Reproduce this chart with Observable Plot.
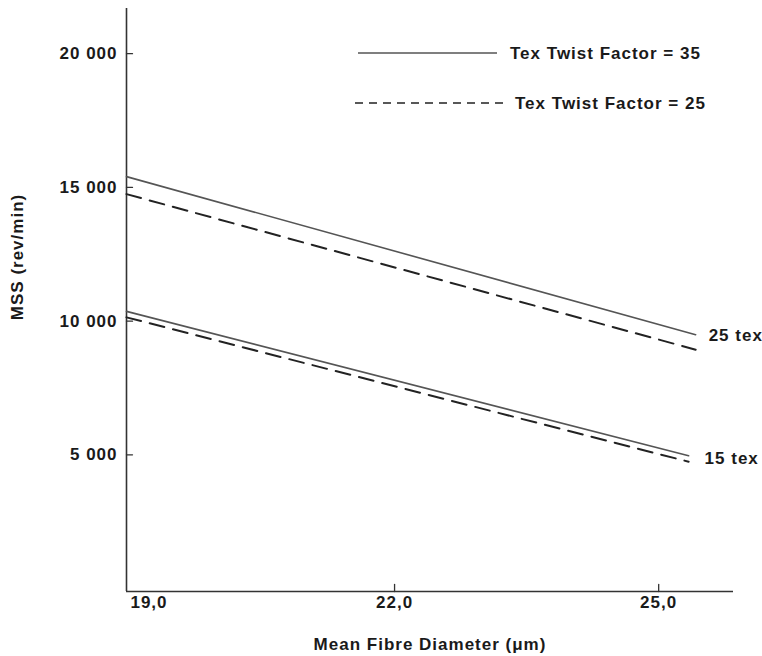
<!DOCTYPE html>
<html>
<head>
<meta charset="utf-8">
<script src="https://cdn.jsdelivr.net/npm/d3@7"></script>
<script src="https://cdn.jsdelivr.net/npm/@observablehq/plot@0.6"></script>
<style>
  html, body { margin: 0; padding: 0; background: #fff; }
  #wrap { position: relative; width: 762px; height: 656px; }
  #legend { position: absolute; left: 0; top: 0; pointer-events: none; }
  #legend text { font-family: "Liberation Sans", Arial, sans-serif; font-size: 17px; font-weight: bold; letter-spacing: 1px; fill: #1a1a1a; }
</style>
</head>
<body>
<div id="wrap"></div>
<script>
// ---- data ----
const xTicks = [19, 22, 25];
const yTicks = [5000, 10000, 15000, 20000];
const xDomain = [18.955, 25.85];
const yDomain = [-110, 21690];

// Mean fibre diameter (µm) at the start/end of each line
const x25tex = [18.955, 25.42];
const x15tex = [18.955, 25.34];
// MSS (rev/min)
const tex25_tf35 = [15404, 9494];
const tex25_tf25 = [14749, 8933];
const tex15_tf35 = [10365, 4968];
const tex15_tf25 = [10141, 4743];

const yarnLabels = ["25 tex", "15 tex"];
const legendLabels = ["Tex Twist Factor = 35", "Tex Twist Factor = 25"];

// ---- build table ----
const rows = [];
function addSeries(xs, ys, yarn, tf) {
  xs.forEach((x, i) => rows.push({x, y: ys[i], yarn, tf}));
}
addSeries(x25tex, tex25_tf35, "25 tex", 35);
addSeries(x25tex, tex25_tf25, "25 tex", 25);
addSeries(x15tex, tex15_tf35, "15 tex", 35);
addSeries(x15tex, tex15_tf25, "15 tex", 25);

const solid = rows.filter(d => d.tf === 35);
const dashed = rows.filter(d => d.tf === 25);
const solidEnds = yarnLabels.map(l => {
  const s = solid.filter(d => d.yarn === l);
  return s[s.length - 1];
});

const fmtY = d => d3.format(",")(d).replace(",", " ");
const fmtX = d => d.toFixed(1).replace(".", ",");
const tickShape = { draw(ctx, l) { ctx.moveTo(0, 0); ctx.lineTo(0, -l); } };
const axisColor = "#333";

const chart = Plot.plot({
  width: 762,
  height: 656,
  marginLeft: 126,
  marginRight: 29,
  marginTop: 8,
  marginBottom: 65,
  x: { domain: xDomain },
  y: { domain: yDomain },
  style: {
    fontFamily: "'Liberation Sans', Arial, sans-serif",
    fontSize: "17px",
    fontWeight: "bold",
    letterSpacing: "1px",
    color: "#1a1a1a",
    background: "#fff"
  },
  marks: [
    Plot.ruleX([xDomain[0]], { stroke: axisColor, strokeWidth: 1.6 }),
    Plot.ruleY([yDomain[0]], { stroke: axisColor, strokeWidth: 1.6 }),
    Plot.vector([22, 25], { x: d => d, frameAnchor: "bottom", length: 7, rotate: 0, anchor: "start", shape: tickShape, stroke: axisColor, strokeWidth: 1.3 }),
    Plot.vector(yTicks, { y: d => d, frameAnchor: "left", length: 6, rotate: 90, anchor: "start", shape: tickShape, stroke: axisColor, strokeWidth: 1.3 }),
    Plot.axisY({ ticks: yTicks, tickFormat: fmtY, tickSize: 0, tickPadding: 9, label: null }),
    Plot.axisX({ ticks: [xTicks[0]], tickFormat: fmtX, tickSize: 0, tickPadding: 4, textAnchor: "start", label: null }),
    Plot.axisX({ ticks: xTicks.slice(1), tickFormat: fmtX, tickSize: 0, tickPadding: 4, label: null }),
    Plot.line(solid, { x: "x", y: "y", z: "yarn", stroke: "#555", strokeWidth: 1.6 }),
    Plot.line(dashed, { x: "x", y: "y", z: "yarn", stroke: "#222", strokeWidth: 2, strokeDasharray: "15,9" }),
    Plot.text([solidEnds[0]], { x: "x", y: "y", text: "yarn", textAnchor: "start", dx: 13, dy: 1 }),
    Plot.text([solidEnds[1]], { x: "x", y: "y", text: "yarn", textAnchor: "start", dx: 16, dy: 3 }),
    Plot.text(["Mean Fibre Diameter (μm)"], { text: d => d, frameAnchor: "bottom", textAnchor: "middle", dy: 58 }),
    Plot.text(["MSS (rev/min)"], { text: d => d, frameAnchor: "left", textAnchor: "middle", dx: -109, dy: -43, rotate: -90 })
  ]
});

const wrap = document.getElementById("wrap");
wrap.appendChild(chart);

// legend overlay
const ns = "http://www.w3.org/2000/svg";
const leg = document.createElementNS(ns, "svg");
leg.setAttribute("id", "legend");
leg.setAttribute("width", 762);
leg.setAttribute("height", 130);
const legendItems = [
  { label: legendLabels[0], x1: 358, x2: 497, tx: 510, y: 53, dash: null, stroke: "#555", sw: 1.6 },
  { label: legendLabels[1], x1: 355, x2: 503, tx: 515, y: 103, dash: "8,6", stroke: "#222", sw: 1.6 }
];
for (const it of legendItems) {
  const ln = document.createElementNS(ns, "line");
  ln.setAttribute("x1", it.x1); ln.setAttribute("x2", it.x2);
  ln.setAttribute("y1", it.y); ln.setAttribute("y2", it.y);
  ln.setAttribute("stroke", it.stroke); ln.setAttribute("stroke-width", it.sw);
  if (it.dash) ln.setAttribute("stroke-dasharray", it.dash);
  leg.appendChild(ln);
  const t = document.createElementNS(ns, "text");
  t.setAttribute("x", it.tx); t.setAttribute("y", it.y);
  t.setAttribute("dominant-baseline", "central");
  t.textContent = it.label;
  leg.appendChild(t);
}
wrap.appendChild(leg);
</script>
</body>
</html>
